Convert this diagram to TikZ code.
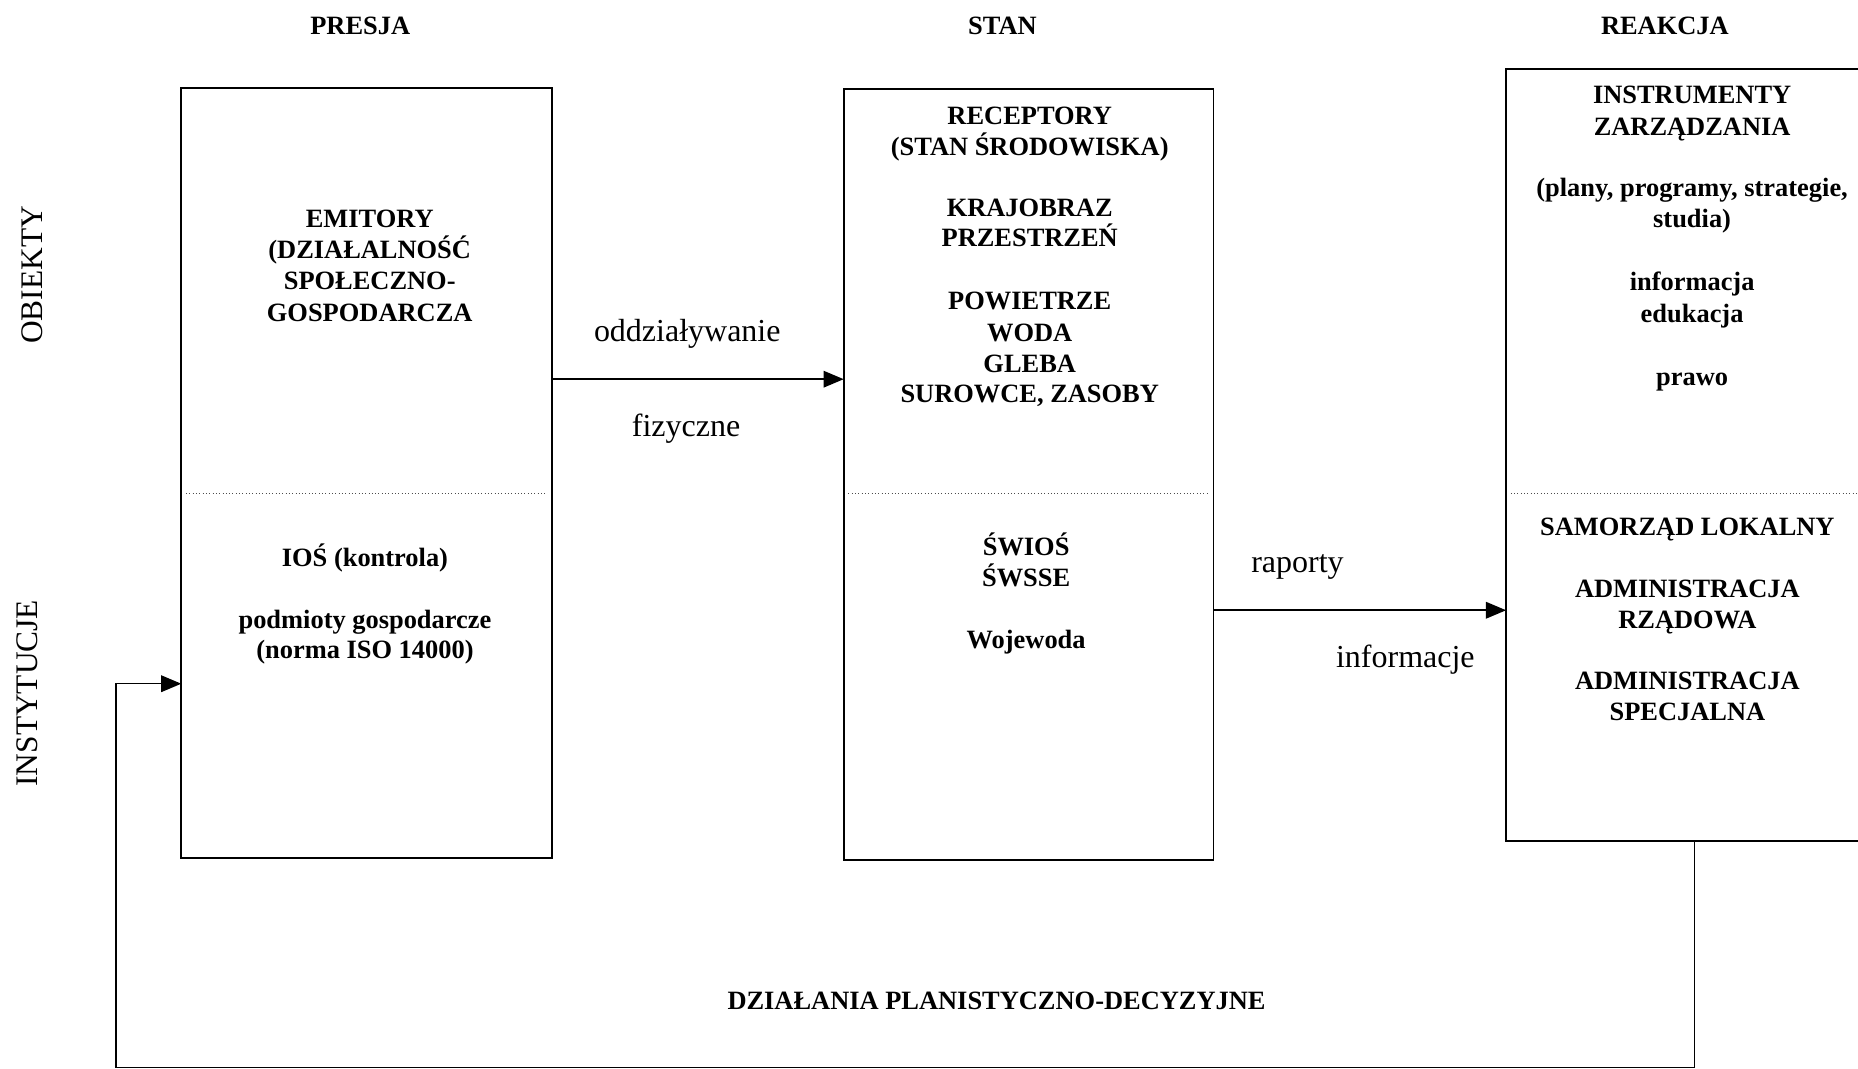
\documentclass[tikz,border=0pt]{standalone}
\usepackage{fontspec}
\setmainfont{Liberation Serif}
\usetikzlibrary{arrows.meta}
\tikzset{
  box/.style={draw, line width=1.5pt, rectangle, inner sep=0pt, outer sep=0pt},
  div/.style={line width=0.8pt, dotted, black!70},
  arr/.style={line width=1.3pt, -{Triangle[length=17pt,width=14pt]}},
  bt/.style={font=\bfseries\fontsize{22.3}{26}\selectfont, anchor=base, inner sep=0pt},
  lb/.style={font=\fontsize{27}{32}\selectfont, anchor=base, inner sep=0pt},
  side/.style={font=\fontsize{26.5}{32}\selectfont, rotate=90, anchor=center, inner sep=0pt}
}
\begin{document}
\begin{tikzpicture}[x=1pt,y=-1pt]
\useasboundingbox (0,0) rectangle (1568,902);
\clip (0,0) rectangle (1568,902);
\fill[white] (0,0) rectangle (1568,902);

% headers
\node[bt] (hpresja) at (304,29) {PRESJA};
\node[bt] (hstan) at (846,29) {STAN};
\node[bt] (hreakcja) at (1405,29) {REAKCJA};

% side labels
\node[side] (sobiekty) at (27,232) {OBIEKTY};
\node[side] (sinst) at (23,585) {INSTYTUCJE};

% boxes
\node[box, minimum width=313pt, minimum height=650pt] (b1) at (309.5,399) {};
\node[box, minimum width=312pt, minimum height=651pt] (b2) at (868,400.5) {};
\node[box, minimum width=349pt, minimum height=651.5pt] (b3) at (1445.5,383.75) {};

% dividers
\coordinate (dv) at (0,416.5);
\draw[div] ([xshift=4pt]b1.west |- dv) -- ([xshift=-4pt]b1.east |- dv);
\draw[div] ([xshift=4pt]b2.west |- dv) -- ([xshift=-4pt]b2.east |- dv);
\draw[div] ([xshift=4pt]b3.west |- dv) -- ([xshift=-4pt]b3.east |- dv);

% box 1 text
\node[bt] (t1a) at (312,192) {EMITORY};
\node[bt] (t1b) at (312,218) {(DZIAŁALNOŚĆ};
\node[bt] (t1c) at (312,244) {SPOŁECZNO-};
\node[bt] (t1d) at (312,271) {GOSPODARCZA};
\node[bt] (t1e) at (308,478) {IOŚ (kontrola)};
\node[bt] (t1f) at (308,530) {podmioty gospodarcze};
\node[bt] (t1g) at (308,556) {(norma ISO 14000)};

% box 2 text
\node[bt] (t2a) at (869,105) {RECEPTORY};
\node[bt] (t2b) at (869,131) {(STAN ŚRODOWISKA)};
\node[bt] (t2c) at (869,183) {KRAJOBRAZ};
\node[bt] (t2d) at (869,208) {PRZESTRZEŃ};
\node[bt] (t2e) at (869,261) {POWIETRZE};
\node[bt] (t2f) at (869,288) {WODA};
\node[bt] (t2g) at (869,314) {GLEBA};
\node[bt] (t2h) at (869,340) {SUROWCE, ZASOBY};
\node[bt] (t2i) at (866,469) {ŚWIOŚ};
\node[bt] (t2j) at (866,495) {ŚWSSE};
\node[bt] (t2k) at (866,547) {Wojewoda};

% box 3 text
\node[bt] (t3a) at (1428,87) {INSTRUMENTY};
\node[bt] (t3b) at (1428,114) {ZARZĄDZANIA};
\node[bt] (t3c) at (1428,166) {(plany, programy, strategie,};
\node[bt] (t3d) at (1428,192) {studia)};
\node[bt] (t3e) at (1428,245) {informacja};
\node[bt] (t3f) at (1428,272) {edukacja};
\node[bt] (t3g) at (1428,325) {prawo};
\node[bt] (t3h) at (1424,452) {SAMORZĄD LOKALNY};
\node[bt] (t3i) at (1424,504) {ADMINISTRACJA};
\node[bt] (t3j) at (1424,530) {RZĄDOWA};
\node[bt] (t3k) at (1424,582) {ADMINISTRACJA};
\node[bt] (t3l) at (1424,608) {SPECJALNA};

% arrows
\coordinate (r1) at (0,320);
\draw[arr] (b1.east |- r1) -- (b2.west |- r1);
\node[lb] (l1a) at (580,288) {oddziaływanie};
\node[lb] (l1b) at (579,368) {fizyczne};

\coordinate (r2) at (0,515);
\draw[arr] (b2.east |- r2) -- (b3.west |- r2);
\node[lb] (l2a) at (1095,483) {raporty};
\node[lb] (l2b) at (1186,563) {informacje};

% feedback loop
\coordinate (fa) at (1430,901);
\coordinate (fb) at (98,901);
\coordinate (fc) at (98,577);
\draw[arr] (b3.south -| fa) -- (fa) -- (fb) -- (fc) -- (b1.west |- fc);
\node[bt] (tdz) at (841,852) {DZIAŁANIA PLANISTYCZNO-DECYZYJNE};
\end{tikzpicture}
\end{document}
